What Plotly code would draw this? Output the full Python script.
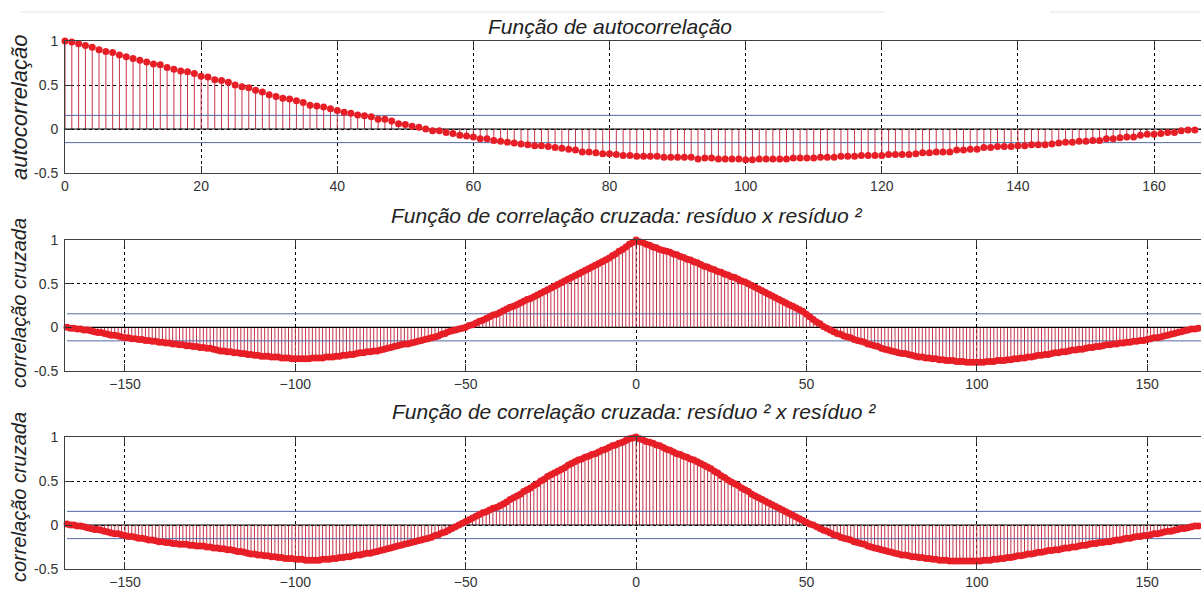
import plotly.graph_objects as go

# ---------------------------------------------------------------- data
acf_lags = list(range(0, 168))
acf_vals = [
    1.00, 0.99, 0.97, 0.95, 0.93, 0.90, 0.88, 0.87, 0.84, 0.82,
    0.80, 0.78, 0.76, 0.74, 0.73, 0.70, 0.68, 0.66, 0.65, 0.63,
    0.60, 0.59, 0.56, 0.55, 0.53, 0.50, 0.48, 0.47, 0.44, 0.42,
    0.39, 0.37, 0.35, 0.34, 0.32, 0.30, 0.27, 0.26, 0.25, 0.23,
    0.21, 0.19, 0.18, 0.16, 0.15, 0.14, 0.11, 0.11, 0.09, 0.06,
    0.05, 0.03, 0.02, 0.00, -0.02, -0.02, -0.04, -0.05, -0.07, -0.08,
    -0.09, -0.11, -0.11, -0.13, -0.14, -0.15, -0.16, -0.17, -0.18, -0.19,
    -0.19, -0.20, -0.21, -0.22, -0.23, -0.24, -0.26, -0.26, -0.27, -0.28,
    -0.28, -0.29, -0.30, -0.30, -0.31, -0.31, -0.31, -0.31, -0.32, -0.32,
    -0.32, -0.32, -0.32, -0.34, -0.33, -0.33, -0.34, -0.34, -0.34, -0.34,
    -0.35, -0.35, -0.34, -0.34, -0.34, -0.34, -0.34, -0.33, -0.33, -0.33,
    -0.33, -0.32, -0.32, -0.32, -0.31, -0.31, -0.31, -0.30, -0.30, -0.30,
    -0.30, -0.29, -0.29, -0.29, -0.29, -0.28, -0.27, -0.27, -0.26, -0.26,
    -0.26, -0.24, -0.24, -0.23, -0.23, -0.21, -0.21, -0.20, -0.20, -0.20,
    -0.19, -0.19, -0.18, -0.18, -0.18, -0.17, -0.16, -0.15, -0.15, -0.14,
    -0.14, -0.13, -0.13, -0.11, -0.11, -0.10, -0.09, -0.09, -0.07, -0.06,
    -0.06, -0.05, -0.04, -0.04, -0.02, -0.01, -0.01, 0.00,
]

xc_lags = list(range(-167, 168))
# resíduo x resíduo²
xc_res_res2 = [
    0.00, -0.01, -0.01, -0.02, -0.02, -0.03, -0.03, -0.04, -0.05, -0.06,
    -0.06, -0.07, -0.08, -0.09, -0.09, -0.10, -0.11, -0.12, -0.12, -0.13,
    -0.13, -0.14, -0.14, -0.15, -0.15, -0.16, -0.16, -0.17, -0.17, -0.18,
    -0.18, -0.19, -0.19, -0.20, -0.20, -0.21, -0.21, -0.22, -0.22, -0.23,
    -0.23, -0.24, -0.24, -0.25, -0.26, -0.27, -0.27, -0.28, -0.28, -0.29,
    -0.29, -0.30, -0.30, -0.31, -0.31, -0.32, -0.32, -0.33, -0.33, -0.33,
    -0.34, -0.34, -0.34, -0.35, -0.35, -0.35, -0.36, -0.36, -0.36, -0.36,
    -0.36, -0.36, -0.35, -0.35, -0.35, -0.35, -0.34, -0.34, -0.34, -0.33,
    -0.33, -0.32, -0.32, -0.31, -0.31, -0.30, -0.29, -0.29, -0.28, -0.28,
    -0.27, -0.27, -0.26, -0.25, -0.24, -0.23, -0.22, -0.21, -0.20, -0.19,
    -0.19, -0.18, -0.17, -0.16, -0.15, -0.14, -0.13, -0.12, -0.11, -0.10,
    -0.08, -0.07, -0.05, -0.04, -0.03, -0.02, -0.01, 0.00, 0.02, 0.03,
    0.05, 0.07, 0.08, 0.10, 0.12, 0.14, 0.15, 0.17, 0.19, 0.21,
    0.23, 0.24, 0.26, 0.28, 0.30, 0.32, 0.33, 0.35, 0.37, 0.39,
    0.41, 0.43, 0.45, 0.47, 0.49, 0.51, 0.53, 0.55, 0.57, 0.59,
    0.61, 0.63, 0.65, 0.67, 0.69, 0.71, 0.73, 0.75, 0.77, 0.79,
    0.82, 0.84, 0.87, 0.89, 0.92, 0.95, 0.97, 1.00, 0.98, 0.97,
    0.95, 0.94, 0.92, 0.91, 0.89, 0.88, 0.87, 0.86, 0.84, 0.83,
    0.81, 0.80, 0.78, 0.77, 0.75, 0.74, 0.72, 0.70, 0.69, 0.67,
    0.66, 0.64, 0.63, 0.61, 0.60, 0.58, 0.57, 0.55, 0.53, 0.52,
    0.50, 0.48, 0.46, 0.44, 0.42, 0.40, 0.38, 0.36, 0.34, 0.32,
    0.30, 0.28, 0.26, 0.24, 0.22, 0.20, 0.18, 0.15, 0.12, 0.09,
    0.06, 0.04, 0.01, -0.01, -0.03, -0.05, -0.07, -0.08, -0.10, -0.11,
    -0.12, -0.14, -0.15, -0.16, -0.17, -0.19, -0.20, -0.21, -0.22, -0.24,
    -0.25, -0.26, -0.27, -0.28, -0.29, -0.30, -0.30, -0.31, -0.32, -0.33,
    -0.34, -0.34, -0.35, -0.35, -0.36, -0.36, -0.37, -0.37, -0.38, -0.38,
    -0.38, -0.39, -0.39, -0.39, -0.40, -0.40, -0.40, -0.40, -0.40, -0.40,
    -0.39, -0.39, -0.39, -0.38, -0.38, -0.38, -0.37, -0.37, -0.36, -0.36,
    -0.35, -0.35, -0.34, -0.34, -0.33, -0.32, -0.32, -0.31, -0.31, -0.30,
    -0.29, -0.29, -0.28, -0.28, -0.27, -0.26, -0.26, -0.25, -0.25, -0.24,
    -0.23, -0.23, -0.22, -0.22, -0.21, -0.20, -0.20, -0.19, -0.19, -0.18,
    -0.18, -0.17, -0.17, -0.16, -0.16, -0.15, -0.15, -0.14, -0.13, -0.12,
    -0.12, -0.11, -0.10, -0.09, -0.08, -0.07, -0.06, -0.05, -0.04, -0.03,
    -0.02, -0.02, -0.01, 0.00, 0.01,
]
# resíduo² x resíduo²
xc_res2_res2 = [
    0.01, 0.00, 0.00, -0.01, -0.01, -0.02, -0.03, -0.04, -0.05, -0.05,
    -0.06, -0.07, -0.08, -0.09, -0.10, -0.10, -0.11, -0.12, -0.13, -0.13,
    -0.14, -0.15, -0.15, -0.16, -0.17, -0.17, -0.18, -0.19, -0.19, -0.20,
    -0.20, -0.21, -0.21, -0.22, -0.22, -0.22, -0.23, -0.23, -0.24, -0.24,
    -0.24, -0.25, -0.25, -0.26, -0.26, -0.27, -0.27, -0.28, -0.28, -0.29,
    -0.30, -0.30, -0.31, -0.32, -0.33, -0.33, -0.34, -0.34, -0.35, -0.35,
    -0.36, -0.36, -0.37, -0.37, -0.38, -0.38, -0.38, -0.39, -0.39, -0.39,
    -0.40, -0.40, -0.40, -0.40, -0.40, -0.39, -0.39, -0.39, -0.38, -0.38,
    -0.37, -0.37, -0.36, -0.36, -0.35, -0.34, -0.34, -0.33, -0.32, -0.32,
    -0.31, -0.30, -0.29, -0.28, -0.27, -0.26, -0.25, -0.24, -0.23, -0.22,
    -0.21, -0.20, -0.19, -0.18, -0.17, -0.16, -0.15, -0.14, -0.12, -0.11,
    -0.09, -0.08, -0.06, -0.04, -0.02, 0.00, 0.02, 0.04, 0.06, 0.08,
    0.10, 0.12, 0.14, 0.15, 0.17, 0.19, 0.20, 0.22, 0.24, 0.26,
    0.29, 0.31, 0.33, 0.35, 0.38, 0.40, 0.42, 0.45, 0.47, 0.50,
    0.52, 0.55, 0.57, 0.59, 0.61, 0.63, 0.65, 0.68, 0.70, 0.72,
    0.74, 0.75, 0.77, 0.78, 0.80, 0.81, 0.83, 0.85, 0.86, 0.88,
    0.90, 0.91, 0.93, 0.94, 0.96, 0.98, 0.99, 1.00, 0.98, 0.97,
    0.95, 0.94, 0.93, 0.91, 0.90, 0.88, 0.86, 0.85, 0.83, 0.81,
    0.80, 0.78, 0.77, 0.75, 0.74, 0.72, 0.70, 0.68, 0.66, 0.64,
    0.61, 0.59, 0.56, 0.54, 0.51, 0.49, 0.47, 0.45, 0.42, 0.40,
    0.38, 0.35, 0.33, 0.31, 0.29, 0.27, 0.25, 0.23, 0.21, 0.19,
    0.17, 0.15, 0.13, 0.11, 0.09, 0.07, 0.05, 0.03, 0.01, 0.00,
    -0.02, -0.04, -0.06, -0.07, -0.09, -0.11, -0.12, -0.14, -0.15, -0.16,
    -0.17, -0.19, -0.20, -0.21, -0.22, -0.24, -0.25, -0.26, -0.27, -0.28,
    -0.29, -0.30, -0.31, -0.32, -0.33, -0.34, -0.34, -0.35, -0.36, -0.36,
    -0.37, -0.37, -0.38, -0.38, -0.39, -0.39, -0.40, -0.40, -0.40, -0.41,
    -0.41, -0.41, -0.41, -0.41, -0.41, -0.41, -0.41, -0.41, -0.41, -0.40,
    -0.40, -0.40, -0.39, -0.39, -0.38, -0.38, -0.37, -0.37, -0.36, -0.35,
    -0.35, -0.34, -0.33, -0.33, -0.32, -0.31, -0.31, -0.30, -0.29, -0.29,
    -0.28, -0.28, -0.27, -0.26, -0.26, -0.25, -0.25, -0.24, -0.23, -0.23,
    -0.22, -0.21, -0.21, -0.20, -0.20, -0.19, -0.19, -0.18, -0.17, -0.17,
    -0.16, -0.15, -0.15, -0.14, -0.13, -0.13, -0.12, -0.12, -0.11, -0.10,
    -0.10, -0.09, -0.08, -0.07, -0.07, -0.06, -0.05, -0.04, -0.04, -0.03,
    -0.02, -0.01, -0.01, 0.00, 0.01,
]

conf_band = 0.155   # ±2/sqrt(N) significance limits

titles = [
    "Função de autocorrelação",
    "Função de correlação cruzada: resíduo x resíduo ²",
    "Função de correlação cruzada: resíduo ² x resíduo ²",
]
ylabels = ["autocorrelação", "correlação cruzada", "correlação cruzada"]

acf_ticks = [0, 20, 40, 60, 80, 100, 120, 140, 160]
xc_ticks = [-150, -100, -50, 0, 50, 100, 150]
y_ticks = [-0.5, 0, 0.5, 1]
y_ticktext = ["-0.5", "0", "0.5", "1"]

# ---------------------------------------------------------------- layout helpers
W, H = 1201, 591
FONT = "Liberation Sans, Arial, sans-serif"
STEM = "rgb(198,52,72)"
DOT = "rgb(232,30,38)"
BLUE = "rgb(84,104,164)"


def px_x(p):
    return p / W


def px_y(p):
    return 1 - p / H


# panel geometry in pixels: (top, bottom), title centre, y-label centre/size
panels = [
    dict(top=41, bottom=173, title_x=610, title_y=26, ylab_y=107, ylab_size=22,
         lags=acf_lags, vals=acf_vals, xr=[0, 166.9], ticks=acf_ticks),
    dict(top=240, bottom=371, title_x=626, title_y=215, ylab_y=303, ylab_size=20,
         lags=xc_lags, vals=xc_res_res2, xr=[-167.6, 165.8], ticks=xc_ticks),
    dict(top=437, bottom=569, title_x=634, title_y=411, ylab_y=497, ylab_size=20,
         lags=xc_lags, vals=xc_res2_res2, xr=[-167.6, 165.8], ticks=xc_ticks),
]

fig = go.Figure()
annotations = []
layout_axes = {}

for i, p in enumerate(panels, start=1):
    xa = "x" if i == 1 else f"x{i}"
    ya = "y" if i == 1 else f"y{i}"
    lags, vals = p["lags"], p["vals"]

    # stems
    sx, sy = [], []
    for k, v in zip(lags, vals):
        sx += [k, k, None]
        sy += [0, v, None]
    fig.add_trace(go.Scatter(x=sx, y=sy, mode="lines", xaxis=xa, yaxis=ya,
                             line=dict(color=STEM, width=1),
                             hoverinfo="skip", showlegend=False))
    # significance limits
    for c in (conf_band, -conf_band):
        fig.add_trace(go.Scatter(x=[lags[0], lags[-1]], y=[c, c], mode="lines",
                                 xaxis=xa, yaxis=ya,
                                 line=dict(color=BLUE, width=1),
                                 hoverinfo="skip", showlegend=False))
    # stem baseline
    fig.add_trace(go.Scatter(x=[lags[0], lags[-1]], y=[0, 0], mode="lines",
                             xaxis=xa, yaxis=ya,
                             line=dict(color="black", width=1.2),
                             hoverinfo="skip", showlegend=False))
    # stem heads
    fig.add_trace(go.Scatter(x=lags, y=vals, mode="markers", xaxis=xa, yaxis=ya,
                             marker=dict(color=DOT, size=7, line=dict(width=0)),
                             cliponaxis=False, showlegend=False))

    dom_y = [px_y(p["bottom"]), px_y(p["top"])]
    layout_axes["xaxis" if i == 1 else f"xaxis{i}"] = dict(
        domain=[px_x(65), 1], range=p["xr"], anchor=ya, automargin=False,
        tickvals=p["ticks"], ticks="inside", ticklen=7, tickcolor="#333",
        showline=True, linecolor="#404040", linewidth=1, mirror="ticks",
        showgrid=True, gridcolor="black", gridwidth=1, griddash="3px,3px",
        zeroline=False, ticklabelstandoff=0,
        tickfont=dict(family=FONT, size=14, color="#333"),
    )
    layout_axes["yaxis" if i == 1 else f"yaxis{i}"] = dict(
        domain=dom_y, range=[-0.5, 1], anchor=xa, automargin=False,
        tickvals=y_ticks, ticktext=y_ticktext, ticks="inside", ticklen=7,
        tickcolor="#333",
        showline=True, linecolor="#404040", linewidth=1, mirror=False,
        showgrid=True, gridcolor="black", gridwidth=1, griddash="3px,3px",
        zeroline=False, ticklabelstandoff=3,
        tickfont=dict(family=FONT, size=14, color="#333"),
    )

    annotations.append(dict(
        text=titles[i - 1], xref="paper", yref="paper",
        x=px_x(p["title_x"]), y=px_y(p["title_y"]),
        xanchor="center", yanchor="middle", showarrow=False,
        font=dict(family=FONT, size=21, color="#222", style="italic"),
    ))
    annotations.append(dict(
        text=ylabels[i - 1], xref="paper", yref="paper",
        x=px_x(19), y=px_y(p["ylab_y"]),
        xanchor="center", yanchor="middle", showarrow=False, textangle=-90,
        font=dict(family=FONT, size=p["ylab_size"], color="#222", style="italic"),
    ))

# faint window-frame line along the top
shapes = [
    dict(type="line", xref="paper", yref="paper",
         x0=px_x(20), x1=px_x(885), y0=px_y(12), y1=px_y(12),
         line=dict(color="#e6e6e6", width=1)),
    dict(type="line", xref="paper", yref="paper",
         x0=px_x(1050), x1=1, y0=px_y(12), y1=px_y(12),
         line=dict(color="#e6e6e6", width=1)),
]

fig.update_layout(
    width=W, height=H,
    margin=dict(l=0, r=0, t=0, b=0, autoexpand=False),
    paper_bgcolor="white", plot_bgcolor="white",
    annotations=annotations, shapes=shapes,
    **layout_axes,
)

fig.write_html("out.html")
